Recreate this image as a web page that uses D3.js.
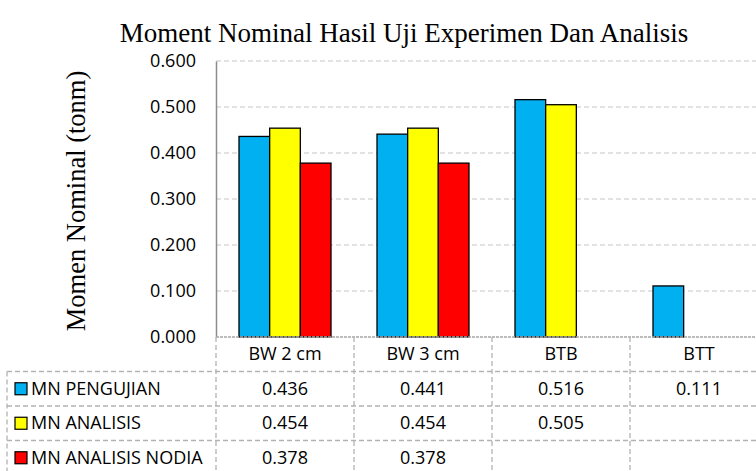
<!DOCTYPE html>
<html>
<head>
<meta charset="utf-8">
<script src="https://cdn.jsdelivr.net/npm/d3@7"></script>
<style>
body { margin: 0; background: #fff; }
svg { display: block; }
</style>
</head>
<body>
<svg id="chart" width="756" height="471"></svg>
<script>
// data
var categories = ["BW 2 cm", "BW 3 cm", "BTB", "BTT"];
var seriesNames = ["MN PENGUJIAN", "MN ANALISIS", "MN ANALISIS NODIA"];
var pengujian = [0.436, 0.441, 0.516, 0.111];
var analisis = [0.454, 0.454, 0.505, null];
var nodia = [0.378, 0.378, null, null];
var yTicks = [0, 0.1, 0.2, 0.3, 0.4, 0.5, 0.6];
var colors = ["#00b0f0", "#ffff00", "#ff0000"];

var series = [pengujian, analisis, nodia];

var svg = d3.select("#chart"),
	plotLeft = 216, plotRight = 768, plotTop = 61, plotBottom = 337;

var x0 = d3.scaleBand().domain(categories).range([plotLeft, plotRight]);
var inner = x0.bandwidth() / 4.5; // excel gap 150%
var x1 = d3.scaleBand().domain(d3.range(series.length))
	.range([0.75 * inner, 3.75 * inner]);
var y = d3.scaleLinear().domain([0, 0.6]).range([plotBottom, plotTop]);

var serif = "'Liberation Serif', 'Times New Roman', serif";
var sans = "'Open Sans', 'Noto Sans', sans-serif";

// title
svg.append("text")
	.attr("x", 404).attr("y", 42)
	.attr("text-anchor", "middle")
	.style("font-family", serif)
	.style("font-size", "27px")
	.text("Moment Nominal Hasil Uji Experimen Dan Analisis");

// y label
svg.append("text")
	.attr("transform", "translate(85,201) rotate(-90)")
	.attr("text-anchor", "middle")
	.style("font-family", serif)
	.style("font-size", "26.5px")
	.text("Momen Nominal (tonm)");

// grid
svg.append("g").selectAll("line")
	.data(yTicks.filter(function(d){ return d > 0; }))
	.enter().append("line")
	.attr("x1", plotLeft).attr("x2", plotRight)
	.attr("y1", function(d){ return y(d); })
	.attr("y2", function(d){ return y(d); })
	.attr("stroke", "#d9d9d9").attr("stroke-width", 1.3)
	.attr("stroke-dasharray", "5,3");

// y axis
var yAxis = d3.axisLeft(y).tickValues(yTicks).tickSize(0).tickPadding(20)
	.tickFormat(d3.format(".3f"));
var ya = svg.append("g").attr("transform", "translate(" + plotLeft + ",0)").call(yAxis);
ya.select(".domain").attr("stroke", "#8c8c8c").attr("stroke-width", 1.5);
ya.selectAll("text")
	.style("font-family", sans)
	.style("font-size", "18px")
	.attr("fill", "#000");

// bars
var groups = svg.append("g").selectAll("g")
	.data(categories)
	.enter().append("g")
	.attr("transform", function(d){ return "translate(" + x0(d) + ",0)"; });

groups.selectAll("rect")
	.data(function(d, i){
		return series.map(function(s, j){ return {k: j, v: s[i]}; })
			.filter(function(e){ return e.v != null; });
	})
	.enter().append("rect")
	.attr("x", function(d){ return x1(d.k); })
	.attr("width", x1.bandwidth())
	.attr("y", function(d){ return y(d.v); })
	.attr("height", function(d){ return plotBottom - y(d.v); })
	.attr("fill", function(d){ return colors[d.k]; })
	.attr("stroke", "#000").attr("stroke-width", 1.3);

// data table
var rowH = 34.5, headTop = plotBottom, tableLeft = 7;
var rowsTop = headTop + rowH;
var tbl = svg.append("g");
var lineStyle = function(sel){
	return sel.attr("stroke", "#b3b3b3").attr("stroke-width", 1.3).attr("stroke-dasharray", "5,3");
};

// bottom axis line
tbl.append("line")
	.attr("x1", plotLeft).attr("x2", plotRight).attr("y1", plotBottom).attr("y2", plotBottom)
	.attr("stroke", "#a6a6a6").attr("stroke-width", 1.5).attr("stroke-dasharray", "3,1");

d3.range(series.length + 1).forEach(function(i){
	lineStyle(tbl.append("line")
		.attr("x1", tableLeft).attr("x2", plotRight)
		.attr("y1", rowsTop + i * rowH).attr("y2", rowsTop + i * rowH));
});
lineStyle(tbl.append("line")
	.attr("x1", tableLeft).attr("x2", tableLeft)
	.attr("y1", rowsTop).attr("y2", rowsTop + series.length * rowH));
categories.concat([null]).forEach(function(c, i){
	var xx = plotLeft + i * x0.bandwidth();
	lineStyle(tbl.append("line")
		.attr("x1", xx).attr("x2", xx)
		.attr("y1", headTop).attr("y2", rowsTop + series.length * rowH));
});

var tfont = function(sel){
	return sel.style("font-family", sans)
		.style("font-size", "18px").attr("fill", "#000");
};

// header
tbl.selectAll(".head").data(categories).enter().append("text")
	.attr("class", "head")
	.attr("x", function(d){ return x0(d) + x0.bandwidth() / 2; })
	.attr("y", headTop + rowH / 2 + 6)
	.attr("text-anchor", "middle")
	.text(function(d){ return d; })
	.call(tfont);

// legend rows
seriesNames.forEach(function(name, j){
	var cy = rowsTop + j * rowH + rowH / 2;
	tbl.append("rect")
		.attr("x", 15).attr("y", cy - 6).attr("width", 12).attr("height", 12)
		.attr("fill", colors[j]).attr("stroke", "#000").attr("stroke-width", 1.2);
	tbl.append("text")
		.attr("x", 31).attr("y", cy + 6)
		.text(name).call(tfont);
	categories.forEach(function(c, i){
		var v = series[j][i];
		if (v == null) return;
		tbl.append("text")
			.attr("x", x0(c) + x0.bandwidth() / 2)
			.attr("y", cy + 6)
			.attr("text-anchor", "middle")
			.text(d3.format(".3f")(v))
			.call(tfont);
	});
});
</script>
</body>
</html>
